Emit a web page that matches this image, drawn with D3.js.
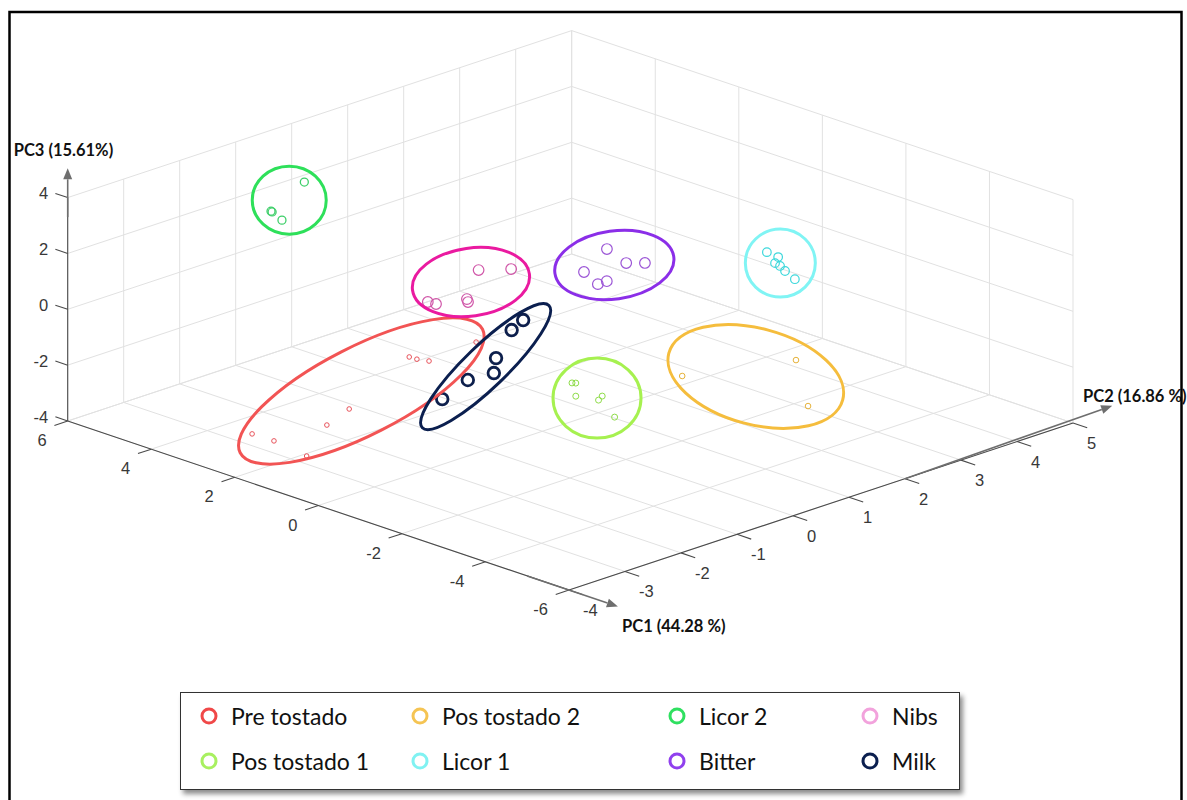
<!DOCTYPE html>
<meta charset='utf-8'>
<body style='margin:0;background:#fff'>
<script src='https://cdn.jsdelivr.net/npm/d3@7'></script>
<script>

var width = 1187, height = 800;

// scores: [PC1, PC2, PC3]
var preTostado = [[2.35,-3.43,-3],[1.84,-3.42,-3],[1.78,-2.52,-3],[2.09,-1.89,-3],[0.91,-3.53,-3],[3.24,0.04,-3],[3.07,0.05,-3],[2.86,0.11,-3],[2.98,1.04,-3]];
var posTostado1 = [[-0.12,0.44,-2.5],[-0.17,0.47,-2.5],[-0.64,0.12,-2.5],[-1.05,0.22,-2.5],[-0.95,0.36,-2.5],[-1.85,-0.09,-2.5]];
var posTostado2 = [[-0.68,1.99,-3],[-1.46,3.44,-3],[-3.25,2.32,-3]];
var licor1 = [[-0.75,3.45,0.5],[-1.06,3.42,0.5],[-1.24,3.23,0.5],[-1.40,3.20,0.5],[-1.64,3.11,0.5],[-2.05,2.98,0.5]];
var licor2 = [[4.25,-1.08,3.5],[3.60,-2.16,3.5],[3.56,-2.17,3.5],[3.15,-2.30,3.5]];
var bitter = [[0.76,1.72,1],[0.03,1.52,1],[-0.19,1.69,1],[0.21,0.90,1],[-0.39,0.70,1],[-0.39,0.86,1]];
var nibs = [[1.03,-0.37,1.5],[0.68,-0.05,1.5],[0.49,-1.68,1.5],[0.32,-1.66,1.5],[0.13,-1.25,1.5],[0.01,-1.32,1.5]];
var milk = [[1.21,0.56,-1],[0.99,0.19,-1],[0.17,-0.70,-1],[-0.34,-1.12,-1],[-0.28,-1.54,-1],[-0.66,-2.28,-1]];

var groupNames = ['Pre tostado', 'Pos tostado 1', 'Pos tostado 2', 'Licor 1', 'Licor 2', 'Bitter', 'Nibs', 'Milk'];
var groupData = [preTostado, posTostado1, posTostado2, licor1, licor2, bitter, nibs, milk];

// confidence ellipses drawn on top (centre in score space)
var ellipseCentres = [[2.59,-1.30,-3],[-0.96,0.26,-2.5],[-1.57,2.64,-3],[-1.30,3.28,0.5],[3.78,-1.70,3.5],[0.10,1.36,1],[0.69,-0.76,1.5],[-0.01,-1.02,-1]];

var pc1Ticks = [6, 4, 2, 0, -2, -4, -6];
var pc2Ticks = [-4, -3, -2, -1, 0, 1, 2, 3, 4, 5];
var pc3Ticks = [-4, -2, 0, 2, 4];

var legendOrder = ['Pre tostado', 'Pos tostado 1', 'Pos tostado 2', 'Licor 1', 'Licor 2', 'Bitter', 'Nibs', 'Milk'];

var style = {
  'Pre tostado':   { pt: '#e8525a', r: 2.3, sw: 1,   el: '#f25454', rx: 136, ry: 44, rot: -27, lg: '#f04848' },
  'Pos tostado 1': { pt: '#8fdc4a', r: 3,   sw: 1,   el: '#a6f150', rx: 44,  ry: 40, rot: 0,   lg: '#a8f060' },
  'Pos tostado 2': { pt: '#e6b23a', r: 2.8, sw: 1,   el: '#f5bd3d', rx: 90,  ry: 48, rot: 15,  lg: '#f5c453' },
  'Licor 1':       { pt: '#3ed8dc', r: 4.3, sw: 1.2, el: '#80f4f4', rx: 35,  ry: 34, rot: 0,   lg: '#80f2f2' },
  'Licor 2':       { pt: '#3fcf6a', r: 4,   sw: 1.3, el: '#2ee05a', rx: 37,  ry: 34, rot: 0,   lg: '#2fe060' },
  'Bitter':        { pt: '#9b55d6', r: 5.3, sw: 1.2, el: '#8b2ee8', rx: 60,  ry: 34, rot: -8,  lg: '#9040ee' },
  'Nibs':          { pt: '#d056a8', r: 5.3, sw: 1.2, el: '#ea1aa0', rx: 59,  ry: 34, rot: -8,  lg: '#f2a2dc' },
  'Milk':          { pt: '#0d1f4c', r: 5.8, sw: 2.8, el: '#0b1f4f', rx: 88,  ry: 21, rot: -44, lg: '#0b1f4f' }
};

// oblique projection of the MATLAB view
var t1 = d3.scaleLinear().domain([6, -6]).range([0, 1]);
var t2 = d3.scaleLinear().domain([-4, 5]).range([0, 1]);
var t3 = d3.scaleLinear().domain([-4, 4]).range([0, 1]);
var origin = [67.7, 421], e1 = [501.3, 169], e2 = [504, -167], e3 = [0, -223.4];

function proj(p) {
  var a = t1(p[0]), b = t2(p[1]), c = t3(p[2]);
  return [origin[0] + a * e1[0] + b * e2[0] + c * e3[0],
          origin[1] + a * e1[1] + b * e2[1] + c * e3[1]];
}
function unit(p0, p1) {
  var a = proj(p0), b = proj(p1), dx = b[0] - a[0], dy = b[1] - a[1], L = Math.hypot(dx, dy);
  return [dx / L, dy / L];
}

var svg = d3.select('body').append('svg')
  .attr('width', width).attr('height', height)
  .style('display', 'block');

var defs = svg.append('defs');
var f = defs.append('filter').attr('id', 'shadow').attr('x', '-5%').attr('y', '-20%').attr('width', '115%').attr('height', '150%');
f.append('feDropShadow').attr('dx', 3).attr('dy', 4).attr('stdDeviation', 2.5)
  .attr('flood-color', '#000').attr('flood-opacity', 0.45);

// grid
var gridLines = [];
pc1Ticks.forEach(function(v){ gridLines.push([[v,-4,-4],[v,5,-4]]); gridLines.push([[v,5,-4],[v,5,4]]); });
pc2Ticks.forEach(function(v){ gridLines.push([[6,v,-4],[-6,v,-4]]); gridLines.push([[6,v,-4],[6,v,4]]); });
pc3Ticks.forEach(function(v){ gridLines.push([[6,-4,v],[6,5,v]]); gridLines.push([[6,5,v],[-6,5,v]]); });

svg.append('g').selectAll('line')
  .data(gridLines).enter().append('line')
  .attr('x1', function(d){ return proj(d[0])[0]; })
  .attr('y1', function(d){ return proj(d[0])[1]; })
  .attr('x2', function(d){ return proj(d[1])[0]; })
  .attr('y2', function(d){ return proj(d[1])[1]; })
  .attr('stroke', '#e1e1e1').attr('stroke-width', 1);

// axes
var axisG = svg.append('g');
var axisLines = [[[6,-4,-4],[-6,-4,-4]], [[-6,-4,-4],[-6,5,-4]], [[6,-4,-4],[6,-4,4]]];
axisG.selectAll('line.axis').data(axisLines).enter().append('line')
  .attr('x1', function(d){ return proj(d[0])[0]; })
  .attr('y1', function(d){ return proj(d[0])[1]; })
  .attr('x2', function(d){ return proj(d[1])[0]; })
  .attr('y2', function(d){ return proj(d[1])[1]; })
  .attr('stroke', '#4a4a4a').attr('stroke-width', 1.1);

var dirU1 = unit([6,-4,-4], [5,-4,-4]);
var dirU2 = unit([6,-4,-4], [6,-3,-4]);

function ticks(data, at, dir, len) {
  axisG.append('g').selectAll('line').data(data).enter().append('line')
    .attr('x1', function(v){ return proj(at(v))[0]; })
    .attr('y1', function(v){ return proj(at(v))[1]; })
    .attr('x2', function(v){ return proj(at(v))[0] + dir[0] * len; })
    .attr('y2', function(v){ return proj(at(v))[1] + dir[1] * len; })
    .attr('stroke', '#4a4a4a').attr('stroke-width', 1.1);
}
ticks(pc1Ticks, function(v){ return [v,-4,-4]; }, [-dirU2[0], -dirU2[1]], 14);
ticks(pc2Ticks, function(v){ return [-6,v,-4]; }, dirU1, 15);
ticks(pc3Ticks, function(v){ return [6,-4,v]; }, [-dirU1[0], -dirU1[1]], 13);

function tickLabels(data, at, dx, dy, anchor) {
  axisG.append('g').selectAll('text').data(data).enter().append('text')
    .attr('x', function(v){ return proj(at(v))[0] + dx; })
    .attr('y', function(v){ return proj(at(v))[1] + dy; })
    .attr('text-anchor', anchor)
    .attr('dominant-baseline', 'central')
    .style('font-family', 'Liberation Sans, Arial, sans-serif')
    .style('font-size', '16.5px')
    .attr('fill', '#383838')
    .text(function(v){ return v; });
}
tickLabels(pc1Ticks, function(v){ return [v,-4,-4]; }, -21, 19, 'end');
tickLabels(pc2Ticks, function(v){ return [-6,v,-4]; }, 14, 20, 'start');
tickLabels(pc3Ticks, function(v){ return [6,-4,v]; }, -19.5, -4.4, 'end');

// arrows
function arrow(p0, p1) {
  var a = proj(p0), b = proj(p1);
  var dx = b[0] - a[0], dy = b[1] - a[1], L = Math.hypot(dx, dy), ux = dx / L, uy = dy / L;
  var hl = 11, hw = 4.5, base = [b[0] - ux * hl, b[1] - uy * hl];
  axisG.append('line').attr('x1', a[0]).attr('y1', a[1]).attr('x2', base[0]).attr('y2', base[1])
    .attr('stroke', '#6e6e6e').attr('stroke-width', 1.6);
  axisG.append('path')
    .attr('d', 'M' + b + 'L' + [base[0] - uy * hw, base[1] + ux * hw] + 'L' + [base[0] + uy * hw, base[1] - ux * hw] + 'Z')
    .attr('fill', '#6e6e6e');
}
arrow([6,-4,3.3], [6,-4,5.05]);
arrow([-5,-4,-4], [-7.17,-4,-4]);
arrow([-6,2,-4], [-6,5.7,-3.85]);

// axis titles
var titleFont = 'Lato, Open Sans, sans-serif';
function title(txt, p, dx, dy) {
  svg.append('text')
    .attr('x', proj(p)[0] + dx).attr('y', proj(p)[1] + dy)
    .style('font-family', titleFont).style('font-size', '16.5px').style('font-weight', 'bold')
    .attr('fill', '#111')
    .text(txt);
}
title('PC3 (15.61%)', [6,-4,4], -54, -42);
title('PC1 (44.28 %)', [-6,-4,-4], 53, 42);
title('PC2 (16.86 %)', [-6,5,-4], 10, -21);

// points
var plot = svg.append('g');
groupNames.forEach(function(name, i) {
  var s = style[name];
  plot.append('g').selectAll('circle').data(groupData[i]).enter().append('circle')
    .attr('cx', function(d){ return proj(d)[0]; })
    .attr('cy', function(d){ return proj(d)[1]; })
    .attr('r', s.r)
    .attr('fill', 'none')
    .attr('stroke', s.pt)
    .attr('stroke-width', s.sw);
});

// ellipses
plot.append('g').selectAll('ellipse').data(groupNames).enter().append('ellipse')
  .attr('transform', function(d, i){ var c = proj(ellipseCentres[i]); return 'translate(' + c + ') rotate(' + style[d].rot + ')'; })
  .attr('rx', function(d){ return style[d].rx; })
  .attr('ry', function(d){ return style[d].ry; })
  .attr('fill', 'none')
  .attr('stroke', function(d){ return style[d].el; })
  .attr('stroke-width', 3);

// frame
svg.append('rect').attr('x', 9.5).attr('y', 12).attr('width', 1172).attr('height', 820)
  .attr('fill', 'none').attr('stroke', '#000').attr('stroke-width', 2.5);

// legend
var legend = svg.append('g');
legend.append('rect').attr('x', 180.5).attr('y', 692.5).attr('width', 779).attr('height', 97)
  .attr('fill', '#fff').attr('stroke', '#333').attr('stroke-width', 1)
  .attr('filter', 'url(#shadow)');
var colX = [209, 420, 677, 870], rowY = [716, 761];
var item = legend.selectAll('g.item').data(legendOrder).enter().append('g')
  .attr('transform', function(d, i){ return 'translate(' + colX[Math.floor(i / 2)] + ',' + rowY[i % 2] + ')'; });
item.append('circle').attr('r', 7).attr('fill', 'none')
  .attr('stroke', function(d){ return style[d].lg; }).attr('stroke-width', 3);
item.append('text').attr('x', 22).attr('y', 0).attr('dominant-baseline', 'central')
  .style('font-family', 'Lato, Open Sans, sans-serif').style('font-size', '23px')
  .attr('fill', '#111')
  .text(function(d){ return d; });

</script>
</body>
